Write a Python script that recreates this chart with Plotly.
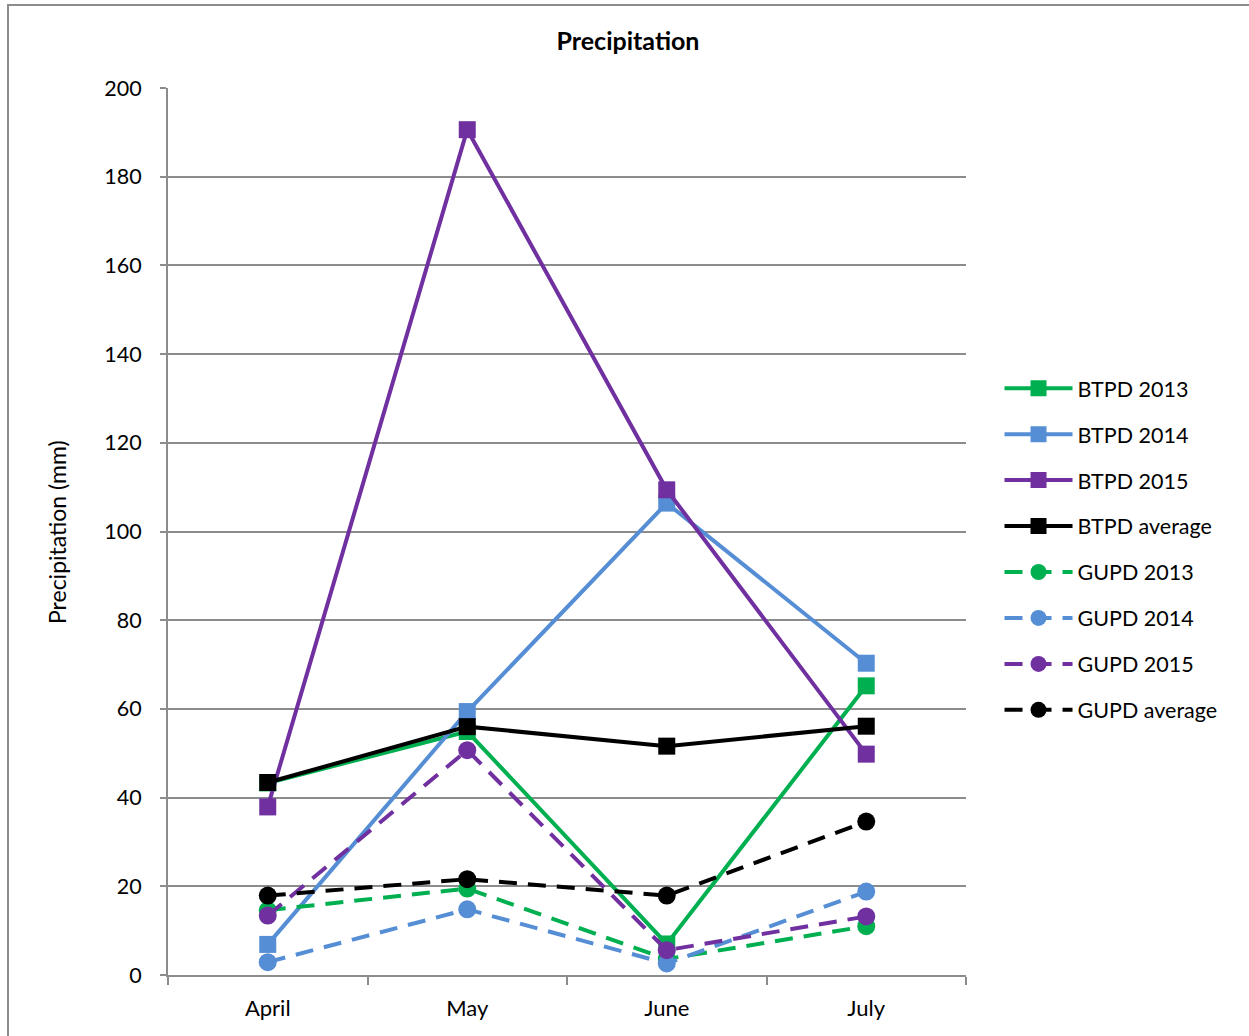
import plotly.graph_objects as go

# Monthly precipitation (mm) for the two sites
months = ["April", "May", "June", "July"]

btpd_2013 = [43.3, 54.9, 7.0, 65.2]
btpd_2014 = [6.9, 59.4, 106.4, 70.3]
btpd_2015 = [37.9, 190.6, 109.4, 49.8]
btpd_avg = [43.4, 56.0, 51.6, 56.1]

gupd_2013 = [14.6, 19.5, 3.6, 11.0]
gupd_2014 = [2.9, 14.8, 2.6, 18.8]
gupd_2015 = [13.4, 50.7, 5.6, 13.2]
gupd_avg = [17.9, 21.6, 17.9, 34.6]

GREEN = "#00B050"
BLUE = "#558ED5"
PURPLE = "#7030A0"
BLACK = "#000000"
GRID = "#8C8C8C"
FONT = "Lato"

series = [
    ("BTPD 2013", btpd_2013, GREEN, "solid", "square"),
    ("BTPD 2014", btpd_2014, BLUE, "solid", "square"),
    ("BTPD 2015", btpd_2015, PURPLE, "solid", "square"),
    ("BTPD average", btpd_avg, BLACK, "solid", "square"),
    ("GUPD 2013", gupd_2013, GREEN, "18px,11px", "circle"),
    ("GUPD 2014", gupd_2014, BLUE, "18px,11px", "circle"),
    ("GUPD 2015", gupd_2015, PURPLE, "18px,11px", "circle"),
    ("GUPD average", gupd_avg, BLACK, "18px,11px", "circle"),
]

fig = go.Figure()
for name, vals, color, dash, symbol in series:
    fig.add_trace(go.Scatter(
        x=months, y=vals, name=name, mode="lines+markers",
        legendgroup=name,
        line=dict(color=color, width=4, dash=dash),
        marker=dict(symbol=symbol, size=17 if symbol == "square" else 18,
                    color=color, line=dict(width=0)),
    ))

fig.update_layout(
    width=1249, height=1036,
    margin=dict(l=168, r=283, t=88, b=61),
    paper_bgcolor="white", plot_bgcolor="white",
    font=dict(family=FONT, size=22, color="black"),
    title=dict(text="<b>Precipitation</b>", x=0.5028, xref="container",
               xanchor="center", y=1 - 41 / 1036, yanchor="middle",
               font=dict(family=FONT, size=25, color="black")),
    showlegend=True,
    legend=dict(x=1.042, xanchor="left", y=0.48, yanchor="middle",
                font=dict(family=FONT, size=21.5), tracegroupgap=15,
                itemwidth=68, bgcolor="rgba(0,0,0,0)"),
    xaxis=dict(
        type="category", range=[-0.5, 3.5], tickson="boundaries",
        ticks="outside", ticklen=8, tickcolor=GRID, tickwidth=2,
        showline=True, linecolor=GRID, linewidth=2, showgrid=False,
        ticklabelstandoff=13, zeroline=False,
        tickfont=dict(family=FONT, size=22),
    ),
    yaxis=dict(
        range=[0, 200], dtick=20, tickformat="d",
        ticks="outside", ticklen=6, tickcolor=GRID, tickwidth=2,
        showline=True, linecolor=GRID, linewidth=2,
        showgrid=True, gridcolor=GRID, gridwidth=2, zeroline=False,
        ticklabelstandoff=14, tickfont=dict(family=FONT, size=21.5),
    ),
    annotations=[dict(
        text="Precipitation (mm)", xref="paper", yref="paper",
        x=(57 - 168) / 798, y=(975 - 532) / 887, textangle=-90,
        xanchor="center", yanchor="middle", showarrow=False,
        font=dict(family=FONT, size=23, color="black"),
    )],
    shapes=[dict(
        type="rect", xref="paper", yref="paper",
        x0=(8 - 168) / 798, x1=1.45, y0=-0.2, y1=(975 - 5) / 887,
        line=dict(color=GRID, width=2), fillcolor="rgba(0,0,0,0)",
        layer="below",
    )],
)

fig.write_html("out.html")
